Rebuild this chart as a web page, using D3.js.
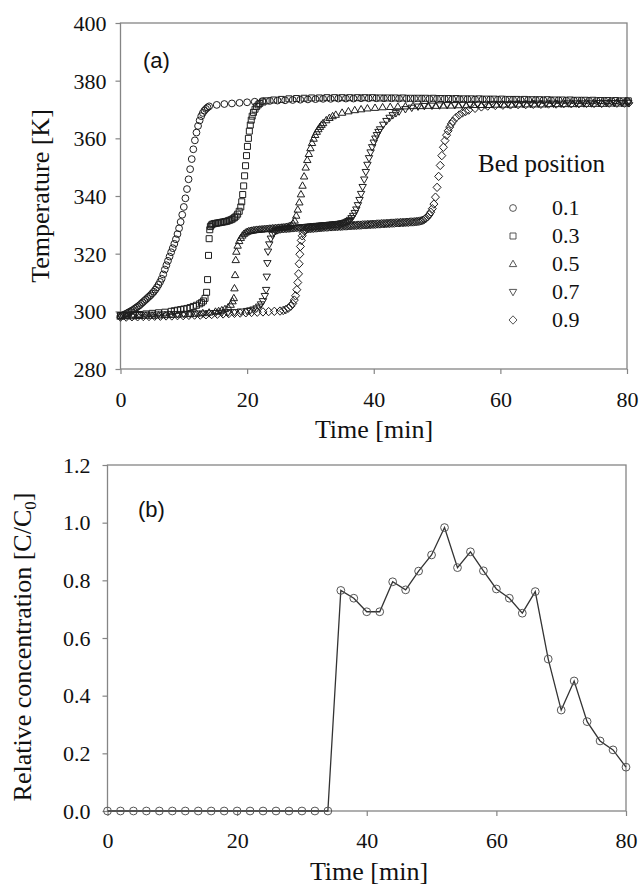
<!DOCTYPE html>
<html><head><meta charset="utf-8">
<script src="https://cdn.jsdelivr.net/npm/d3@7"></script>
<style>body{margin:0;background:#fff} svg{display:block}</style>
</head><body>
<svg id="c" width="639" height="885"></svg>
<script>
// ---------- DATA (a): temperature [K] vs time [min] at each bed position ----------
const bed01 = [[0,298.5],[0.25,298.6],[0.5,298.8],[0.75,299.0],[1,299.3],[1.25,299.6],[1.5,299.9],[1.75,300.2],[2,300.5],[2.25,300.9],[2.5,301.3],[2.75,301.7],[3,302.1],[3.25,302.6],[3.5,303.1],[3.75,303.6],[4,304.1],[4.25,304.6],[4.5,305.1],[4.75,305.6],[5,306.2],[5.25,306.8],[5.5,307.5],[5.75,308.3],[6,309.2],[6.25,310.2],[6.5,311.3],[6.75,312.8],[7,314.5],[7.25,316.0],[7.5,317.5],[7.75,319.0],[8,320.5],[8.25,321.9],[8.5,323.4],[8.75,325.0],[9,326.8],[9.25,328.8],[9.5,331.0],[9.75,333.5],[10,336.2],[10.25,339.2],[10.5,342.4],[10.75,345.8],[11,349.3],[11.25,352.8],[11.5,356.2],[11.75,359.3],[12,362.0],[12.25,364.3],[12.5,366.2],[12.75,367.7],[13,368.8],[13.25,369.6],[13.5,370.2],[13.75,370.7],[14,371.1],[15.2,371.6],[16.4,371.9],[17.6,372.1],[18.8,372.3],[20,372.5],[21.2,372.7],[22.4,372.9],[23.6,373.0],[24.8,373.1],[26,373.2],[27.2,373.3],[28.4,373.4],[29.6,373.5],[30.8,373.6],[32,373.7],[33.2,373.7],[34.4,373.8],[35.6,373.8],[36.8,373.8],[38,373.9],[39.2,373.9],[40.4,373.9],[41.6,373.9],[42.8,373.9],[44,373.8],[45.2,373.8],[46.4,373.8],[47.6,373.8],[48.8,373.7],[50,373.7],[51.2,373.7],[52.4,373.6],[53.6,373.6],[54.8,373.6],[56,373.5],[57.2,373.5],[58.4,373.5],[59.6,373.4],[60.8,373.4],[62,373.4],[63.2,373.3],[64.4,373.3],[65.6,373.3],[66.8,373.2],[68,373.2],[69.2,373.2],[70.4,373.1],[71.6,373.1],[72.8,373.1],[74,373.0],[75.2,373.0],[76.4,373.0],[77.6,372.9],[78.8,372.9],[80,372.9]];
const bed03 = [[0,298.5],[1,298.6],[2,298.8],[3,298.9],[4,299.1],[5,299.3],[6,299.5],[7,299.7],[8,300.0],[8.5,300.2],[9,300.4],[9.5,300.6],[10,300.8],[10.5,301.0],[11,301.3],[11.5,301.7],[12,302.1],[12.5,302.6],[12.8,303.0],[13.1,303.6],[13.35,304.5],[13.6,306.6],[13.75,311.0],[13.9,319.4],[14.0,325.2],[14.1,328.3],[14.2,329.4],[14.35,329.9],[14.5,330.2],[14.75,330.4],[15,330.5],[15.25,330.6],[15.5,330.7],[15.75,330.8],[16,330.9],[16.25,331.0],[16.5,331.1],[16.75,331.2],[17,331.4],[17.25,331.6],[17.5,331.8],[17.75,332.1],[18,332.5],[18.25,333.0],[18.5,333.7],[18.75,334.7],[19,336.2],[19.15,338.0],[19.3,340.5],[19.45,343.5],[19.6,347.0],[19.75,350.5],[19.9,354.0],[20.05,357.2],[20.2,360.0],[20.35,362.5],[20.5,364.6],[20.65,366.3],[20.8,367.7],[21,369.0],[21.25,370.1],[21.5,371.0],[21.75,371.6],[22,372.1],[22.5,372.6],[23,373.0],[24.2,373.3],[25.4,373.5],[26.6,373.7],[27.8,373.8],[29,373.9],[30.2,374.0],[31.4,374.0],[32.6,374.1],[33.8,374.1],[35,374.1],[36.2,374.1],[37.4,374.1],[38.6,374.1],[39.8,374.1],[41,374.0],[42.2,374.0],[43.4,374.0],[44.6,374.0],[45.8,373.9],[47,373.9],[48.2,373.9],[49.4,373.9],[50.6,373.8],[51.8,373.8],[53,373.8],[54.2,373.7],[55.4,373.7],[56.6,373.7],[57.8,373.6],[59,373.6],[60.2,373.6],[61.4,373.5],[62.6,373.5],[63.8,373.5],[65,373.4],[66.2,373.4],[67.4,373.4],[68.6,373.3],[69.8,373.3],[71,373.3],[72.2,373.2],[73.4,373.2],[74.6,373.2],[75.8,373.1],[77,373.1],[78.2,373.1],[79.4,373.0],[80.2,373.0]];
const bed05 = [[0,298.2],[1,298.3],[2,298.3],[3,298.4],[4,298.5],[5,298.5],[6,298.6],[7,298.7],[8,298.8],[9,298.9],[10,299.0],[11,299.1],[12,299.2],[13,299.4],[14,299.6],[15,299.9],[15.5,300.1],[16,300.4],[16.5,300.8],[17,301.4],[17.4,302.3],[17.7,303.5],[17.9,304.6],[18.0,308.0],[18.1,312.6],[18.2,317.8],[18.3,320.7],[18.5,322.8],[18.75,324.4],[19,325.5],[19.25,326.3],[19.5,326.9],[19.75,327.3],[20,327.6],[20.25,327.8],[20.5,327.9],[20.75,328.0],[21,328.1],[21.25,328.2],[21.5,328.3],[21.75,328.3],[22,328.4],[22.25,328.4],[22.5,328.5],[22.75,328.5],[23,328.6],[23.25,328.6],[23.5,328.7],[23.75,328.7],[24,328.8],[24.25,328.8],[24.5,328.9],[24.75,328.9],[25,329.0],[25.25,329.0],[25.5,329.1],[25.75,329.1],[26,329.2],[26.25,329.3],[26.5,329.4],[26.75,329.6],[27,329.9],[27.25,330.5],[27.5,331.5],[27.75,333.2],[28,335.3],[28.25,337.8],[28.5,340.6],[28.75,343.6],[29,346.8],[29.25,349.9],[29.5,352.5],[29.75,354.6],[30,356.6],[30.25,358.4],[30.5,359.9],[30.75,361.2],[31,362.3],[31.25,363.2],[31.5,364.0],[31.75,364.7],[32,365.3],[32.5,366.3],[33,367.1],[33.5,367.7],[34,368.2],[35,368.9],[36,369.4],[37,369.8],[38,370.1],[39,370.4],[40.2,370.6],[41.4,370.8],[42.6,370.9],[43.8,371.0],[45,371.1],[46.2,371.2],[47.4,371.2],[48.6,371.3],[49.8,371.3],[51,371.4],[52.2,371.4],[53.4,371.5],[54.6,371.5],[55.8,371.6],[57,371.6],[58.2,371.6],[59.4,371.7],[60.6,371.7],[61.8,371.7],[63,371.8],[64.2,371.8],[65.4,371.8],[66.6,371.8],[67.8,371.9],[69,371.9],[70.2,371.9],[71.4,371.9],[72.6,372.0],[73.8,372.0],[75,372.0],[76.2,372.0],[77.4,372.1],[78.6,372.1],[79.8,372.1]];
const bed07 = [[0,298.6],[1,298.6],[2,298.7],[3,298.7],[4,298.8],[5,298.8],[6,298.9],[7,298.9],[8,299.0],[9,299.0],[10,299.1],[11,299.1],[12,299.2],[13,299.2],[14,299.3],[15,299.4],[16,299.5],[17,299.6],[18,299.7],[19,299.9],[20,300.1],[20.5,300.3],[21,300.6],[21.5,301.0],[21.9,301.6],[22.2,302.4],[22.5,303.5],[22.8,305.3],[23.0,307.4],[23.1,312.0],[23.2,316.7],[23.3,320.7],[23.5,323.2],[23.75,325.2],[24,326.5],[24.25,327.3],[24.5,327.8],[24.75,328.1],[25,328.3],[25.25,328.4],[25.5,328.5],[25.75,328.5],[26,328.6],[26.25,328.6],[26.5,328.7],[26.75,328.7],[27,328.8],[27.25,328.8],[27.5,328.9],[27.75,328.9],[28,329.0],[28.25,329.0],[28.5,329.1],[28.75,329.1],[29,329.2],[29.25,329.2],[29.5,329.3],[29.75,329.3],[30,329.4],[30.25,329.4],[30.5,329.5],[30.75,329.5],[31,329.6],[31.25,329.6],[31.5,329.7],[31.75,329.7],[32,329.8],[32.25,329.8],[32.5,329.9],[32.75,329.9],[33,330.0],[33.25,330.0],[33.5,330.1],[33.75,330.1],[34,330.2],[34.25,330.2],[34.5,330.3],[34.75,330.4],[35,330.5],[35.25,330.6],[35.5,330.8],[35.75,331.0],[36,331.3],[36.25,331.7],[36.5,332.3],[36.75,333.1],[37,334.1],[37.25,335.3],[37.5,336.8],[37.75,338.6],[38,340.7],[38.25,343.1],[38.5,345.7],[38.75,348.3],[39,350.8],[39.25,353.1],[39.5,355.1],[39.75,356.9],[40,358.5],[40.25,359.9],[40.5,361.1],[40.75,362.2],[41,363.1],[41.5,364.7],[42,366.0],[42.5,367.1],[43,368.0],[43.5,368.7],[44,369.3],[45,370.1],[46,370.6],[47,371.0],[48,371.2],[49.2,371.3],[50.4,371.4],[51.6,371.5],[52.8,371.5],[54,371.6],[55.2,371.6],[56.4,371.7],[57.6,371.7],[58.8,371.8],[60,371.8],[61.2,371.8],[62.4,371.9],[63.6,371.9],[64.8,371.9],[66,372.0],[67.2,372.0],[68.4,372.0],[69.6,372.0],[70.8,372.1],[72,372.1],[73.2,372.1],[74.4,372.1],[75.6,372.2],[76.8,372.2],[78,372.2],[79.2,372.2],[80.2,372.3]];
const bed09 = [[0,298.0],[0.9,298.0],[1.8,298.1],[2.7,298.1],[3.6,298.2],[4.5,298.2],[5.4,298.3],[6.3,298.3],[7.2,298.4],[8.1,298.4],[9,298.5],[9.9,298.5],[10.8,298.6],[11.7,298.7],[12.6,298.7],[13.5,298.8],[14.4,298.9],[15.3,299.0],[16.2,299.1],[17.1,299.2],[18,299.3],[18.9,299.4],[19.8,299.5],[20.7,299.6],[21.6,299.7],[22.5,299.8],[23.4,299.9],[24.3,300.0],[25.2,300.1],[25.7,300.3],[26.1,300.6],[26.5,301.1],[26.9,301.8],[27.2,302.7],[27.45,303.9],[27.65,305.4],[27.85,307.5],[28.0,310.0],[28.12,313.0],[28.22,316.5],[28.32,319.8],[28.42,322.5],[28.55,324.6],[28.7,326.2],[28.85,327.3],[29,328.0],[29.25,328.4],[29.5,328.6],[29.75,328.7],[30,328.7],[30.25,328.8],[30.5,328.8],[30.75,328.9],[31,328.9],[31.25,329.0],[31.5,329.0],[31.75,329.1],[32,329.1],[32.25,329.2],[32.5,329.2],[32.75,329.2],[33,329.3],[33.25,329.3],[33.5,329.3],[33.75,329.4],[34,329.4],[34.25,329.4],[34.5,329.5],[34.75,329.5],[35,329.5],[35.25,329.6],[35.5,329.6],[35.75,329.6],[36,329.7],[36.25,329.7],[36.5,329.7],[36.75,329.8],[37,329.8],[37.25,329.8],[37.5,329.9],[37.75,329.9],[38,329.9],[38.25,330.0],[38.5,330.0],[38.75,330.0],[39,330.1],[39.25,330.1],[39.5,330.1],[39.75,330.2],[40,330.2],[40.25,330.2],[40.5,330.3],[40.75,330.3],[41,330.3],[41.25,330.4],[41.5,330.4],[41.75,330.4],[42,330.5],[42.25,330.5],[42.5,330.5],[42.75,330.6],[43,330.6],[43.25,330.6],[43.5,330.7],[43.75,330.7],[44,330.7],[44.25,330.8],[44.5,330.8],[44.75,330.8],[45,330.9],[45.25,330.9],[45.5,330.9],[45.75,331.0],[46,331.0],[46.25,331.0],[46.5,331.1],[46.75,331.1],[47,331.2],[47.25,331.3],[47.5,331.4],[47.75,331.6],[48,331.9],[48.25,332.3],[48.5,332.8],[48.75,333.5],[49,334.4],[49.25,335.6],[49.5,337.2],[49.75,339.6],[50,343.0],[50.25,346.8],[50.5,350.6],[50.75,354.0],[51,356.9],[51.25,359.2],[51.5,361.1],[51.75,362.6],[52,363.9],[52.25,365.0],[52.5,365.9],[53,367.2],[53.5,368.1],[54,368.8],[54.5,369.3],[55,369.8],[56,370.4],[57,370.9],[58,371.2],[59.2,371.4],[60.4,371.5],[61.6,371.6],[62.8,371.7],[64,371.7],[65.2,371.8],[66.4,371.8],[67.6,371.9],[68.8,371.9],[70,372.0],[71.2,372.0],[72.4,372.0],[73.6,372.1],[74.8,372.1],[76,372.1],[77.2,372.2],[78.4,372.2],[79.6,372.2],[80.3,372.3]];
const bedLabels = ["0.1","0.3","0.5","0.7","0.9"];

// ---------- DATA (b): relative concentration vs time ----------
const concTime  = [0,2,4,6,8,10,12,14,16,18,20,22,24,26,28,30,32,34,36,38,40,42,44,46,48,50,52,54,56,58,60,62,64,66,68,70,72,74,76,78,80];
const concValue = [0,0,0,0,0,0,0,0,0,0,0,0,0,0,0,0,0,0,0.765,0.738,0.691,0.691,0.795,0.767,0.832,0.888,0.983,0.844,0.899,0.833,0.770,0.738,0.686,0.761,0.527,0.350,0.451,0.310,0.243,0.212,0.152];

// ---------- ticks ----------
const timeTicks = [0,20,40,60,80];
const tempTicks = [280,300,320,340,360,380,400];
const concTicks = [0,0.2,0.4,0.6,0.8,1.0,1.2];

const serif = "'Liberation Serif','Times New Roman',serif";
const sans = "'Liberation Sans',Arial,sans-serif";
const axisGray = "#858585";
const svg = d3.select("#c");

// marker symbol types
const symCircle = {draw(c){ c.moveTo(3.4,0); c.arc(0,0,3.4,0,2*Math.PI); }};
const symSquare = {draw(c){ c.rect(-3,-3,6,6); }};
const symTriUp = {draw(c){ c.moveTo(0,-3.8); c.lineTo(3.7,2.6); c.lineTo(-3.7,2.6); c.closePath(); }};
const symTriDown = {draw(c){ c.moveTo(0,3.8); c.lineTo(3.7,-2.6); c.lineTo(-3.7,-2.6); c.closePath(); }};
const symDiamond = {draw(c){ c.moveTo(0,-4.2); c.lineTo(4,0); c.lineTo(0,4.2); c.lineTo(-4,0); c.closePath(); }};
const bedSeries = [bed01, bed03, bed05, bed07, bed09];
const bedSymbols = [symCircle, symSquare, symTriUp, symTriDown, symDiamond];

function styleAxis(g, fs){
  g.select(".domain").remove();
  g.selectAll(".tick line").attr("stroke", axisGray).attr("stroke-width", 1.2);
  g.selectAll(".tick text").attr("font-family", serif).attr("font-size", fs).attr("fill", "#111");
}

// ================= PANEL (a) =================
const xA = d3.scaleLinear().domain([0,80]).range([120.5,627]);
const yA = d3.scaleLinear().domain([280,400]).range([369,23]);

const gA = svg.append("g");
gA.append("g").attr("transform","translate(0,369)")
  .call(d3.axisBottom(xA).tickValues(timeTicks).tickSize(5).tickFormat(d3.format("d")))
  .call(g => styleAxis(g, 22))
  .call(g => g.selectAll(".tick text").attr("dy", null).attr("y", 38));
gA.append("g").attr("transform","translate(120.5,0)")
  .call(d3.axisLeft(yA).tickValues(tempTicks).tickSize(5).tickFormat(d3.format("d")))
  .call(g => styleAxis(g, 22))
  .call(g => g.selectAll(".tick text").attr("x", -14).attr("dy", "0.34em"));
gA.append("rect").attr("x", xA(0)).attr("y", yA(400)).attr("width", xA(80)-xA(0)).attr("height", yA(280)-yA(400))
  .attr("fill","none").attr("stroke", axisGray).attr("stroke-width", 1.3);

const sym = d3.symbol();
bedSeries.forEach((ser, i) => {
  gA.append("g").selectAll("path").data(ser).join("path")
    .attr("transform", d => `translate(${xA(d[0])},${yA(d[1])})`)
    .attr("d", sym.type(bedSymbols[i])())
    .attr("fill","none").attr("stroke","#1e1e1e").attr("stroke-width",1.0);
});

gA.append("text").attr("x",143).attr("y",68).attr("font-family",sans).attr("font-size",22).attr("fill","#111").text("(a)");
gA.append("text").attr("x",374).attr("y",438).attr("text-anchor","middle").attr("font-family",serif).attr("font-size",26).attr("fill","#111").text("Time [min]");
gA.append("text").attr("transform","translate(49,196) rotate(-90)").attr("text-anchor","middle").attr("font-family",serif).attr("font-size",26).attr("fill","#111").text("Temperature [K]");

// legend
const leg = gA.append("g");
leg.append("text").attr("x",478).attr("y",172).attr("font-family",serif).attr("font-size",25).attr("fill","#111").text("Bed position");
bedLabels.forEach((lab, i) => {
  const yb = 215 + i*28;
  leg.append("path").attr("transform", `translate(513,${yb-7})`).attr("d", sym.type(bedSymbols[i])())
    .attr("fill","none").attr("stroke","#444").attr("stroke-width",0.9);
  leg.append("text").attr("x",552).attr("y",yb).attr("font-family",serif).attr("font-size",22).attr("fill","#111").text(lab);
});

// ================= PANEL (b) =================
const xB = d3.scaleLinear().domain([0,80]).range([107.5,626]);
const yB = d3.scaleLinear().domain([0,1.2]).range([811,465]);
const gB = svg.append("g");
gB.append("g").attr("transform","translate(0,811)")
  .call(d3.axisBottom(xB).tickValues(timeTicks).tickSize(5).tickFormat(d3.format("d")))
  .call(g => styleAxis(g, 22))
  .call(g => g.selectAll(".tick text").attr("dy", null).attr("y", 37));
gB.append("g").attr("transform","translate(107.5,0)")
  .call(d3.axisLeft(yB).tickValues(concTicks).tickSize(5).tickFormat(d3.format(".1f")))
  .call(g => styleAxis(g, 22))
  .call(g => g.selectAll(".tick text").attr("x", -17).attr("dy", "0.32em"));
gB.append("rect").attr("x", xB(0)).attr("y", yB(1.2)).attr("width", xB(80)-xB(0)).attr("height", yB(0)-yB(1.2))
  .attr("fill","none").attr("stroke", axisGray).attr("stroke-width", 1.3);

const concData = concTime.map((t,i) => [t, concValue[i]]);
gB.append("path").datum(concData)
  .attr("d", d3.line().x(d => xB(d[0])).y(d => yB(d[1])))
  .attr("fill","none").attr("stroke","#333").attr("stroke-width",1.3);
gB.append("g").selectAll("circle").data(concData).join("circle")
  .attr("cx", d => xB(d[0])).attr("cy", d => yB(d[1])).attr("r", 3.9)
  .attr("fill","none").attr("stroke","#555").attr("stroke-width",1);

gB.append("text").attr("x",138).attr("y",517).attr("font-family",sans).attr("font-size",22).attr("fill","#111").text("(b)");
gB.append("text").attr("x",369).attr("y",880).attr("text-anchor","middle").attr("font-family",serif).attr("font-size",26).attr("fill","#111").text("Time [min]");
const yt = gB.append("text").attr("transform","translate(31,647) rotate(-90)").attr("text-anchor","middle")
  .attr("font-family",serif).attr("font-size",26).attr("fill","#111");
yt.append("tspan").text("Relative concentration [C/C");
yt.append("tspan").attr("font-size",17).attr("dy",5).text("0");
yt.append("tspan").attr("dy",-5).text("]");
</script>
</body></html>
